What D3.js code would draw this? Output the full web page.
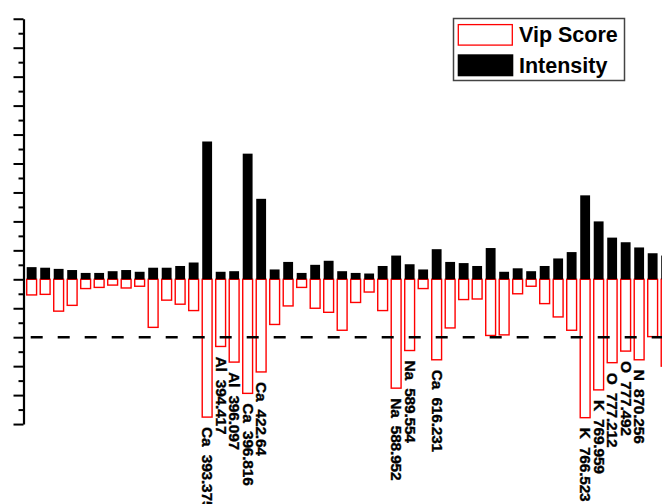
<!DOCTYPE html>
<html>
<head>
<meta charset="utf-8">
<script src="https://cdn.jsdelivr.net/npm/d3@7"></script>
<style>
  html, body { margin: 0; padding: 0; background: #fff; overflow: hidden; }
  text { font-family: "Liberation Sans", Arial, sans-serif; font-weight: bold; }
</style>
</head>
<body>
<svg id="chart" width="662" height="504"></svg>
<script>
// Emission lines (element + wavelength, nm); only lines with VIP above the threshold are named
const peakLabels = [
  "", "", "", "", "", "", "", "", "", "", "", "", "",
  "Ca  393.375", "Al  394.417", "Al  396.097", "Ca  396.816", "Ca  422.64",
  "", "", "", "", "", "", "", "", "",
  "Na  588.952", "Na  589.554", "", "Ca  616.231",
  "", "", "", "", "", "", "", "", "", "",
  "K  766.523", "K  769.959", "O  777.212", "O  777.492", "N  870.256",
  "", ""
];

// Normalised line intensity (drawn upward)
const intensity = [
  0.21, 0.20, 0.18, 0.16, 0.11, 0.11, 0.14, 0.16, 0.13, 0.20,
  0.20, 0.23, 0.29, 2.38, 0.13, 0.14, 2.17, 1.39, 0.17, 0.30,
  0.11, 0.25, 0.32, 0.14, 0.11, 0.10, 0.23, 0.41, 0.26, 0.17,
  0.52, 0.30, 0.28, 0.23, 0.54, 0.13, 0.19, 0.14, 0.23, 0.36,
  0.47, 1.45, 1.00, 0.72, 0.64, 0.55, 0.45, 0.41
];

// VIP score of each line (drawn downward)
const vipScore = [
  0.27, 0.26, 0.55, 0.45, 0.16, 0.14, 0.10, 0.15, 0.12, 0.83,
  0.36, 0.43, 0.54, 2.38, 1.16, 1.43, 1.97, 1.60, 0.78, 0.46,
  0.14, 0.50, 0.57, 0.88, 0.40, 0.22, 0.54, 1.88, 1.23, 0.16,
  1.39, 0.84, 0.35, 0.34, 0.97, 0.96, 0.25, 0.12, 0.42, 0.65,
  0.88, 2.39, 1.91, 1.44, 1.24, 1.39, 0.99, 1.50
];

const vipThreshold = 1;
const legendNames = ["Vip Score", "Intensity"];
const yMajorTicks = [-2.5, -2, -1.5, -1, -0.5, 0, 0.5, 1, 1.5, 2, 2.5, 3, 3.5, 4, 4.5];
const yMinorTicks = [-2.25, -1.75, -1.25, -0.75, -0.25, 0.25, 0.75, 1.25, 1.75, 2.25, 2.75, 3.25, 3.75, 4.25];

const svg = d3.select("#chart");
const axisX = 23.5;
const step = 13.5;

const x = d3.scaleBand()
  .domain(d3.range(peakLabels.length))
  .range([24.9, 24.9 + step * peakLabels.length])
  .paddingInner(0.27)
  .paddingOuter(0.135);

const y = d3.scaleLinear().domain([-2.5, 4.5]).range([424.05, 18.75]);

// VIP score bars: red outline below zero
svg.append("g")
  .selectAll("rect")
  .data(vipScore)
  .join("rect")
  .attr("x", (d, i) => x(i))
  .attr("y", y(0))
  .attr("width", x.bandwidth())
  .attr("height", d => y(-d) - y(0))
  .attr("fill", "#fff")
  .attr("stroke", "#ff0000")
  .attr("stroke-width", 1.4);

// Intensity bars: solid black above zero
svg.append("g")
  .selectAll("rect")
  .data(intensity)
  .join("rect")
  .attr("x", (d, i) => x(i))
  .attr("y", d => y(d))
  .attr("width", x.bandwidth())
  .attr("height", d => y(0) - y(d))
  .attr("fill", "#000");

// Line names, vertical, under each named VIP bar
svg.append("g")
  .selectAll("text")
  .data(peakLabels.map((name, i) => ({ name, i })).filter(d => d.name))
  .join("text")
  .attr("transform", d => `translate(${x(d.i) + x.bandwidth() / 2 + 0.5},${y(-vipScore[d.i]) + 10}) rotate(90)`)
  .attr("dy", "0.36em")
  .attr("font-size", 15.5)
  .attr("letter-spacing", -0.2)
  .attr("stroke", "#000")
  .attr("stroke-width", 0.35)
  .style("white-space", "pre")
  .text(d => d.name);

// Left axis: long major ticks, short minor ticks, no labels
const minorAxis = svg.append("g")
  .attr("transform", `translate(${axisX},0)`)
  .call(d3.axisLeft(y).tickValues(yMinorTicks).tickSize(5).tickSizeOuter(0).tickFormat(""));
const majorAxis = svg.append("g")
  .attr("transform", `translate(${axisX},0)`)
  .call(d3.axisLeft(y).tickValues(yMajorTicks).tickSize(10).tickSizeOuter(0).tickFormat(""));
[minorAxis, majorAxis].forEach(g => {
  g.selectAll("line").attr("stroke", "#000").attr("stroke-width", 2);
  g.select(".domain").attr("stroke", "#000").attr("stroke-width", 2.2);
});
minorAxis.select(".domain").remove();

// VIP = 1 threshold
svg.append("line")
  .attr("x1", 30.7)
  .attr("x2", 662)
  .attr("y1", y(-vipThreshold))
  .attr("y2", y(-vipThreshold))
  .attr("stroke", "#000")
  .attr("stroke-width", 2.6)
  .attr("stroke-dasharray", "12,15");

// Legend
const legend = svg.append("g");
legend.append("rect")
  .attr("x", 453.5).attr("y", 18.5).attr("width", 171).attr("height", 62)
  .attr("fill", "#fff").attr("stroke", "#444").attr("stroke-width", 1.5);
legend.append("rect")
  .attr("x", 458.3).attr("y", 24.6).attr("width", 54).attr("height", 20.5)
  .attr("fill", "#fff").attr("stroke", "#ff0000").attr("stroke-width", 1.3);
legend.append("rect")
  .attr("x", 457.7).attr("y", 54.3).attr("width", 55.6).attr("height", 22)
  .attr("fill", "#000");
legend.selectAll("text.lg")
  .data(legendNames)
  .join("text")
  .attr("class", "lg")
  .attr("x", 519)
  .attr("y", (d, i) => [42.3, 73.3][i])
  .attr("font-size", 21.5)
  .text(d => d);
</script>
</body>
</html>
